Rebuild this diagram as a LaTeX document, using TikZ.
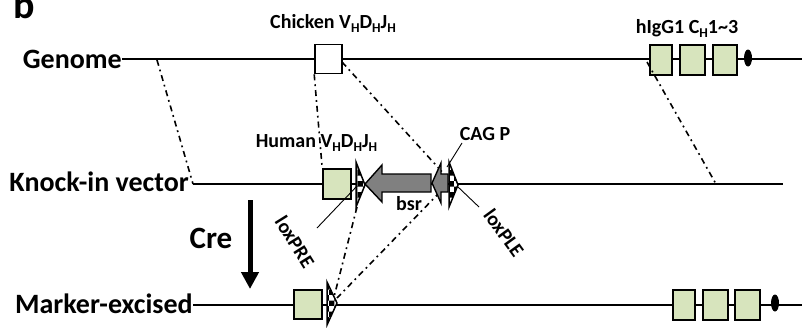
\documentclass[tikz,border=0pt]{standalone}
\usepackage{fontspec}
\setmainfont{Carlito}
\usetikzlibrary{arrows.meta,patterns,shapes.geometric}
\definecolor{gbox}{HTML}{D7E4BD}
\definecolor{garrow}{HTML}{808080}
\newcommand\hsub[1]{\raisebox{-4.5pt}{\fontsize{13.5}{13.5}\selectfont #1}}
\begin{document}
\begin{tikzpicture}[x=1pt,y=-1pt,
  dna/.style={line width=2pt},
  exon/.style={draw,line width=1.6pt,fill=gbox,inner sep=0pt},
  wbox/.style={draw,line width=1.6pt,fill=white,inner sep=0pt},
  polyA/.style={ellipse,fill=black,inner sep=0pt,minimum width=8pt,minimum height=17pt},
  dashdot/.style={line width=1.6pt,dash pattern=on 6pt off 4pt on 1.8pt off 4pt},
  leader/.style={line width=0.9pt},
  lox/.style={draw,line width=1.5pt,preaction={fill=white},pattern=checkerboard},
  gene/.style={draw,line width=1.4pt,fill=garrow},
  lbl/.style={inner sep=0pt,font=\bfseries\fontsize{20}{20}\selectfont},
  big/.style={inner sep=0pt,font=\bfseries\fontsize{28}{28}\selectfont}]
\useasboundingbox (0,0) rectangle (802,327);

% ---------- coordinates ----------
\coordinate (gL) at (122,59);  \coordinate (gR) at (802,59);
\coordinate (vL) at (193,184); \coordinate (vR) at (783,184);
\coordinate (mL) at (193,305); \coordinate (mR) at (802,305);
\coordinate (g1) at (157,60);
\coordinate (g2) at (647,62);  \coordinate (v2) at (716,184);
\coordinate (c3) at (342,62);  \coordinate (v3) at (444,174);
\coordinate (preB) at (357,207); \coordinate (mx1) at (334,297);
\coordinate (pleB) at (440,192); \coordinate (mx2) at (337,298);

% ---------- DNA lines ----------
\draw[dna] (gL) -- (gR);
\draw[dna] (vL) -- (vR);
\draw[dna] (mL) -- (mR);

% ---------- boxes ----------
\node[wbox,minimum width=27pt,minimum height=29pt] (chk) at (328.5,59) {};
\node[exon,minimum width=22pt,minimum height=30pt] (c1) at (661,60) {};
\node[exon,minimum width=25pt,minimum height=30pt] (c2) at (692.5,60) {};
\node[exon,minimum width=24pt,minimum height=30pt] (c3b) at (725,60) {};
\node[polyA] (pa1) at (748,58) {};

\node[exon,minimum width=28pt,minimum height=30pt] (hum) at (337,184) {};

\node[exon,minimum width=28pt,minimum height=29pt] (mkr) at (308,304.5) {};
\node[exon,minimum width=22pt,minimum height=30pt] (d1) at (684,305) {};
\node[exon,minimum width=25pt,minimum height=30pt] (d2) at (715.5,305) {};
\node[exon,minimum width=25pt,minimum height=30pt] (d3) at (747.5,305) {};
\node[polyA] (pa2) at (775,303) {};

% ---------- dash-dot homology lines ----------
\draw[dashdot] (g1) -- (vL);
\draw[dashdot] (chk.south west) -- (hum.north west);
\draw[dashdot] (c3) -- (v3);
\draw[dashdot] (g2) -- (v2);
\draw[dashdot] (preB) -- (mx1);
\draw[dashdot] (pleB) -- (mx2);

% ---------- bsr and CAG promoter arrows ----------
\draw[gene] (365,184) -- (382,165) -- (382,174) -- (431,174) -- (431,192)
  -- (382,192) -- (382,202) -- cycle;
\draw[gene] (432,183) -- (441,163) -- (441,174) -- (448,174) -- (448,192)
  -- (441,192) -- (441,203) -- cycle;

% ---------- loxP sites ----------
\draw[lox] (356,162) -- (365,185) -- (356,207) -- cycle;
\draw[lox] (449,162) -- (458,185) -- (449,207) -- cycle;
\draw[lox] (327,282) -- (337,303) -- (327,325) -- cycle;

% ---------- leader lines ----------
\coordinate (preT) at (357,186); \coordinate (preL) at (317,228);
\coordinate (pleT) at (457,186); \coordinate (pleL) at (479,207);
\coordinate (cagT) at (447,167); \coordinate (cagL) at (462,143);
\draw[leader] (preL) -- (preT);
\draw[leader] (pleT) -- (pleL);
\draw[leader] (cagL) -- (cagT);

% ---------- Cre arrow ----------
\coordinate (creA) at (250,200); \coordinate (creB) at (250,289);
\draw[line width=5pt,-{Triangle[length=17pt,width=17pt]}] (creA) -- (creB);

% ---------- texts ----------
\node[inner sep=0pt,anchor=base west,font=\bfseries\fontsize{40}{40}\selectfont] (tb) at (13,18) {b};
\node[big,anchor=base east] (tg) at (122,68) {Genome};
\node[big,anchor=base east] (tv) at (189,191) {Knock-in vector};
\node[big,anchor=base east] (tm) at (193,313) {Marker-excised};
\node[lbl,anchor=base] (tchk) at (333,28) {Chicken V\hsub{H}D\hsub{H}J\hsub{H}};
\node[lbl,anchor=base] (tigg) at (687,33) {hIgG1 C\hsub{H}1\textasciitilde3};
\node[lbl,anchor=base] (thum) at (316.5,147) {Human V\hsub{H}D\hsub{H}J\hsub{H}};
\node[lbl,anchor=base] (tcag) at (485,140) {CAG P};
\node[lbl,anchor=base] (tbsr) at (409,210) {bsr};
\node[inner sep=0pt,anchor=base,font=\bfseries\fontsize{31}{31}\selectfont] (tcre) at (211,248) {Cre};
\node[lbl,rotate=-58] (tpre) at (295,242) {loxPRE};
\node[lbl,rotate=-54] (tple) at (504,233) {loxPLE};
\end{tikzpicture}
\end{document}
